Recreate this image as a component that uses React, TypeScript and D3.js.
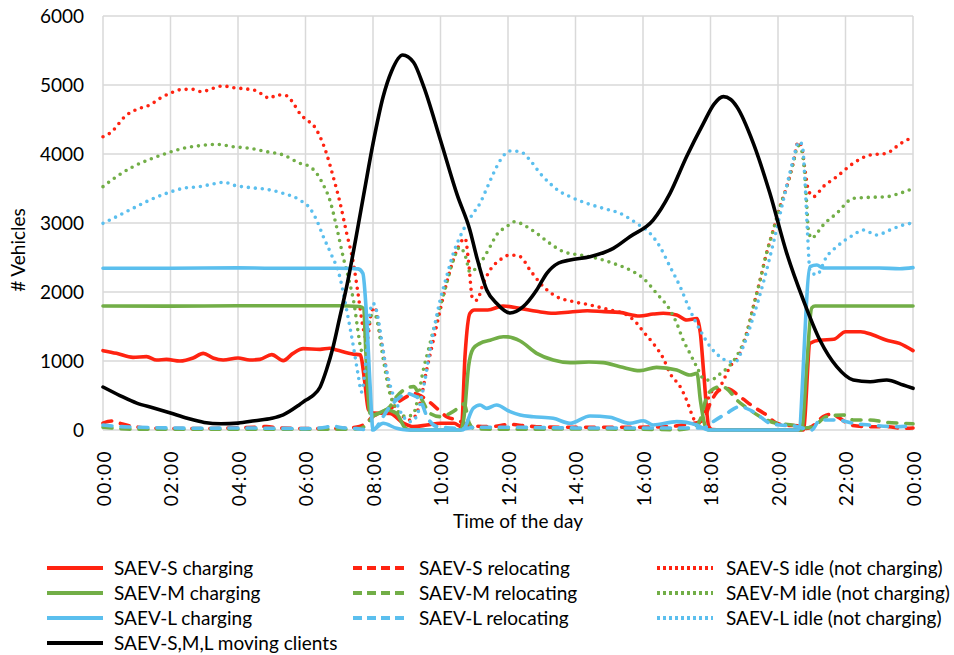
import React from "react";
import * as d3 from "d3";

// ---------- DATA (hours of day, vehicle counts) ----------
const sChargingT = [0, 0.4, 0.89, 1.29, 1.59, 1.88, 2.28, 2.67, 2.97, 3.26, 3.56, 4.0, 4.35, 4.65, 5.0, 5.34, 5.63, 5.93, 6.43, 6.72, 6.92, 7.42, 7.62, 7.76, 7.86, 8.0, 8.5, 8.9, 9.2, 9.6, 10.0, 10.4, 10.62, 10.73, 10.87, 11.0, 11.4, 11.85, 12.35, 12.85, 13.35, 13.85, 14.35, 14.85, 15.3, 15.9, 16.3, 16.6, 17.0, 17.3, 17.6, 17.7, 17.8, 17.95, 18.05, 20.6, 20.75, 20.95, 21.25, 21.65, 22.0, 22.45, 22.8, 23.2, 23.6, 24];
const sChargingV = [1150, 1111, 1053, 1063, 1014, 1024, 1000, 1043, 1111, 1043, 1014, 1043, 1014, 1024, 1092, 1005, 1111, 1179, 1169, 1184, 1160, 1100, 1090, 680, 300, 245, 240, 100, 50, 72, 97, 97, 50, 1100, 1690, 1740, 1740, 1797, 1763, 1720, 1691, 1710, 1729, 1715, 1705, 1652, 1680, 1691, 1667, 1594, 1615, 1400, 820, 48, 5, 0, 0, 1256, 1304, 1314, 1425, 1425, 1380, 1304, 1256, 1150];

const sRelocT = [0, 0.25, 0.5, 0.8, 1.5, 2.5, 3.5, 4.5, 4.85, 5.2, 6, 6.8, 7.3, 7.6, 7.8, 8.0, 8.2, 8.5, 8.7, 9.0, 9.2, 9.4, 9.6, 9.89, 10.18, 10.48, 10.7, 10.9, 11.5, 12.06, 12.5, 12.85, 13.5, 14.5, 15.5, 16.5, 17.0, 17.3, 17.55, 17.79, 17.99, 18.28, 18.5, 18.87, 19.27, 19.66, 19.96, 20.26, 20.65, 20.8, 21.0, 21.34, 21.54, 21.84, 22.14, 22.73, 23.22, 23.71, 24];
const sRelocV = [100, 130, 97, 60, 25, 20, 25, 40, 50, 30, 20, 20, 30, 50, 100, 200, 241, 300, 386, 483, 531, 500, 435, 314, 193, 145, 100, 60, 50, 82, 60, 48, 40, 40, 40, 45, 60, 80, 100, 145, 386, 580, 600, 483, 338, 217, 97, 70, 60, 20, 50, 193, 227, 169, 72, 48, 48, 24, 30];

const sIdleT = [0, 0.2, 0.7, 1.09, 1.39, 1.69, 1.98, 2.37, 2.67, 2.92, 3.26, 3.56, 3.85, 4.25, 4.54, 4.74, 4.94, 5.14, 5.44, 5.64, 5.83, 6.03, 6.23, 6.43, 6.62, 6.82, 7.02, 7.22, 7.42, 7.55, 7.7, 7.82, 7.95, 8.05, 8.2, 8.36, 8.5, 8.65, 8.9, 9.1, 9.25, 9.39, 9.59, 9.79, 9.99, 10.18, 10.38, 10.58, 10.73, 10.83, 10.95, 11.07, 11.27, 11.47, 11.76, 12.06, 12.36, 12.65, 13.05, 13.44, 13.93, 14.43, 15.02, 15.52, 15.81, 16.01, 16.3, 16.6, 16.8, 17.1, 17.29, 17.4, 17.49, 17.69, 17.89, 17.99, 18.28, 18.58, 18.87, 19.07, 19.27, 19.47, 19.66, 19.86, 20.06, 20.26, 20.45, 20.6, 20.7, 20.8, 20.9, 21.05, 21.34, 21.74, 22.23, 22.73, 23.22, 23.51, 23.81, 24];
const sIdleV = [4251, 4300, 4565, 4662, 4710, 4807, 4879, 4937, 4937, 4903, 4952, 4986, 4962, 4942, 4918, 4855, 4807, 4855, 4845, 4734, 4589, 4493, 4420, 4251, 4010, 3671, 3300, 2850, 2415, 2000, 1500, 1300, 1700, 1780, 1400, 966, 580, 338, 193, 145, 200, 386, 870, 1304, 1739, 2126, 2464, 2705, 2780, 2450, 1900, 1880, 2126, 2319, 2464, 2536, 2512, 2319, 2077, 1932, 1860, 1812, 1739, 1667, 1550, 1425, 1256, 1039, 821, 628, 435, 290, 169, 97, 386, 531, 628, 918, 1111, 1401, 1787, 2174, 2560, 2899, 3237, 3527, 3865, 4178, 4106, 3768, 3478, 3381, 3527, 3671, 3865, 3986, 4010, 4106, 4203, 4230];

const mChargingT = [0, 2, 4, 6, 7.0, 7.6, 7.72, 7.8, 7.9, 8.05, 8.4, 8.7, 8.95, 9.1, 10.6, 10.7, 10.83, 10.97, 11.17, 11.47, 11.86, 12.0, 12.36, 12.85, 13.34, 13.84, 14.4, 14.82, 15.32, 15.91, 16.4, 17.0, 17.39, 17.6, 17.7, 17.85, 17.95, 20.7, 20.85, 21.0, 21.1, 22, 23, 24];
const mChargingV = [1797, 1795, 1800, 1800, 1800, 1790, 1760, 1000, 250, 220, 290, 240, 30, 0, 0, 200, 918, 1180, 1256, 1300, 1352, 1350, 1290, 1111, 1014, 976, 985, 976, 918, 860, 908, 870, 797, 821, 430, 48, 0, 0, 918, 1770, 1797, 1797, 1797, 1797];

const mRelocT = [0, 0.5, 1, 2, 4, 6, 7, 7.6, 7.85, 8.0, 8.2, 8.5, 8.7, 9.0, 9.2, 9.4, 9.69, 10.0, 10.28, 10.58, 10.7, 10.85, 11.0, 12, 14, 16, 17.0, 17.5, 17.69, 17.89, 18.1, 18.3, 18.48, 18.78, 19.17, 19.56, 19.96, 20.45, 20.75, 21.0, 21.44, 21.94, 22.23, 22.73, 23.22, 23.71, 24];
const mRelocV = [40, 20, 10, 10, 10, 10, 10, 20, 100, 200, 250, 338, 483, 604, 628, 483, 241, 193, 241, 338, 380, 100, 20, 10, 15, 10, 5, 40, 145, 483, 600, 628, 600, 435, 290, 169, 97, 70, 30, 40, 193, 217, 145, 145, 111, 97, 90];

const mIdleT = [0, 0.4, 0.89, 1.39, 1.88, 2.37, 2.86, 3.36, 3.85, 4.35, 4.84, 5.34, 5.83, 6.13, 6.33, 6.53, 6.72, 6.92, 7.12, 7.3, 7.45, 7.55, 7.66, 7.75, 7.87, 7.98, 8.08, 8.16, 8.26, 8.36, 8.45, 8.6, 8.8, 9.0, 9.2, 9.34, 9.49, 9.64, 9.79, 9.99, 10.18, 10.38, 10.58, 10.75, 10.87, 11.17, 11.47, 11.66, 11.96, 12.2, 12.55, 12.85, 13.24, 13.64, 14.13, 14.63, 15.12, 15.61, 16.01, 16.4, 16.8, 17.0, 17.19, 17.39, 17.59, 17.8, 18.0, 18.25, 18.5, 18.75, 19.07, 19.27, 19.47, 19.66, 19.86, 20.06, 20.26, 20.45, 20.6, 20.7, 20.8, 20.85, 20.9, 21.0, 21.15, 21.34, 21.74, 22.23, 22.73, 23.22, 23.61, 24];
const mIdleV = [3527, 3671, 3816, 3923, 4010, 4082, 4120, 4140, 4106, 4082, 4034, 3986, 3865, 3816, 3720, 3551, 3333, 2947, 2500, 2150, 1800, 1450, 1150, 1120, 1500, 1680, 1650, 1497, 1159, 870, 628, 386, 241, 193, 241, 483, 870, 1159, 1449, 1787, 2126, 2464, 2650, 2500, 2290, 2415, 2657, 2826, 2947, 3019, 2947, 2850, 2705, 2584, 2536, 2488, 2415, 2319, 2198, 1981, 1739, 1546, 1304, 1111, 918, 740, 720, 800, 900, 1050, 1401, 1787, 2174, 2560, 2899, 3237, 3527, 3865, 4120, 4050, 3671, 3285, 2899, 2778, 2850, 2971, 3140, 3357, 3372, 3381, 3430, 3500];

const lChargingT = [0, 2, 4, 5, 6, 7.0, 7.4, 7.56, 7.7, 7.81, 7.91, 8.0, 8.3, 8.7, 9.0, 10.65, 10.97, 11.17, 11.37, 11.66, 12.06, 12.36, 12.75, 13.34, 13.84, 14.43, 15.02, 15.61, 16.01, 16.3, 17.0, 17.59, 17.95, 20.6, 20.95, 21.15, 21.34, 22, 23, 23.61, 24];
const lChargingV = [2345, 2345, 2350, 2345, 2345, 2345, 2340, 2335, 2270, 1642, 676, 10, 97, 24, 0, 0, 314, 362, 314, 362, 266, 217, 193, 169, 97, 203, 184, 97, 135, 72, 121, 72, 0, 0, 2367, 2391, 2348, 2348, 2348, 2338, 2353];

const lRelocT = [0, 0.5, 1, 2, 3, 4, 5, 6, 6.6, 6.8, 7.0, 7.5, 8.0, 8.3, 8.5, 8.7, 9.0, 9.2, 9.4, 9.6, 9.9, 10.3, 10.7, 11, 12, 13, 14, 15, 16, 17, 17.8, 18.0, 18.48, 18.87, 19.17, 19.47, 19.76, 20.06, 20.45, 20.75, 21.0, 21.24, 21.74, 22.23, 22.73, 23.51, 24];
const lRelocV = [72, 50, 40, 30, 25, 30, 25, 20, 40, 60, 40, 20, 0, 193, 338, 435, 531, 500, 435, 193, 48, 30, 20, 40, 40, 35, 30, 30, 30, 30, 30, 97, 241, 338, 290, 193, 97, 72, 60, 24, 0, 145, 145, 97, 72, 48, 60];

const lIdleT = [0, 0.4, 0.89, 1.39, 1.88, 2.37, 2.86, 3.36, 3.6, 3.85, 4.35, 4.84, 5.34, 5.83, 6.13, 6.33, 6.53, 6.75, 7.0, 7.22, 7.42, 7.56, 7.66, 7.75, 7.88, 8.0, 8.1, 8.21, 8.3, 8.4, 8.55, 8.7, 8.9, 9.1, 9.29, 9.44, 9.54, 9.69, 9.84, 9.99, 10.18, 10.38, 10.58, 10.78, 10.97, 11.17, 11.37, 11.57, 11.76, 12.06, 12.36, 12.65, 12.95, 13.24, 13.54, 13.84, 14.33, 14.82, 15.32, 15.81, 16.21, 16.5, 16.8, 17.1, 17.39, 17.69, 17.99, 18.28, 18.58, 18.77, 18.97, 19.27, 19.56, 19.86, 20.16, 20.45, 20.62, 20.72, 20.8, 20.87, 20.95, 21.15, 21.44, 21.74, 22.23, 22.53, 22.92, 23.32, 23.71, 24];
const lIdleV = [2995, 3092, 3213, 3333, 3430, 3502, 3527, 3575, 3590, 3551, 3513, 3488, 3430, 3333, 3213, 3043, 2800, 2560, 2250, 1739, 1207, 800, 550, 800, 1600, 1836, 1739, 1449, 1159, 870, 580, 386, 193, 121, 193, 483, 725, 1159, 1546, 1884, 2222, 2560, 2802, 2995, 3140, 3285, 3500, 3720, 3900, 4043, 4034, 3913, 3720, 3575, 3454, 3381, 3285, 3213, 3140, 2995, 2850, 2657, 2367, 2077, 1739, 1449, 1207, 1063, 990, 1000, 1207, 1642, 2126, 2705, 3333, 3913, 4178, 4130, 3600, 2900, 2300, 2250, 2512, 2657, 2826, 2899, 2826, 2899, 2971, 3000];

const movingT = [0, 0.5, 1.0, 1.5, 2.0, 2.5, 3.0, 3.5, 4.0, 4.5, 5.0, 5.34, 5.83, 6.0, 6.2, 6.43, 6.62, 6.82, 7.02, 7.22, 7.5, 7.75, 8.0, 8.3, 8.55, 8.88, 9.2, 9.5, 10.0, 10.5, 10.87, 11.07, 11.37, 11.66, 12.06, 12.45, 12.85, 13.15, 13.5, 13.84, 14.43, 15.12, 15.61, 16.3, 16.8, 17.29, 17.79, 18.1, 18.38, 18.6, 18.78, 19.27, 19.76, 20.26, 20.75, 21.24, 21.74, 22.23, 22.73, 23.22, 23.71, 24];
const movingV = [623, 500, 390, 320, 246, 170, 110, 90, 100, 135, 170, 220, 370, 430, 490, 620, 870, 1207, 1642, 2077, 2800, 3480, 4150, 4830, 5200, 5435, 5330, 4980, 4200, 3400, 2900, 2512, 2030, 1836, 1695, 1787, 2029, 2271, 2420, 2464, 2512, 2633, 2802, 3043, 3430, 3961, 4444, 4720, 4831, 4790, 4686, 4155, 3430, 2560, 1884, 1304, 918, 725, 700, 725, 652, 604];

const yTicks = [0, 1000, 2000, 3000, 4000, 5000, 6000];
const xTickHours = [0, 2, 4, 6, 8, 10, 12, 14, 16, 18, 20, 22, 24];
const xTickLabels = ["00:00", "02:00", "04:00", "06:00", "08:00", "10:00", "12:00", "14:00", "16:00", "18:00", "20:00", "22:00", "00:00"];

const seriesNames = [
  "SAEV-S charging", "SAEV-S relocating", "SAEV-S idle (not charging)",
  "SAEV-M charging", "SAEV-M relocating", "SAEV-M idle (not charging)",
  "SAEV-L charging", "SAEV-L relocating", "SAEV-L idle (not charging)",
  "SAEV-S,M,L moving clients",
];

// ---------- STYLE ----------
const RED = "#FF2311";
const GREEN = "#72AE47";
const BLUE = "#5BBFEE";
const BLACK = "#000000";
const FONT = "Lato, 'Open Sans', sans-serif";

type Kind = "solid" | "dash" | "dot";
const seriesData: { t: number[]; v: number[]; color: string; kind: Kind }[] = [
  { t: sChargingT, v: sChargingV, color: RED, kind: "solid" },
  { t: sRelocT, v: sRelocV, color: RED, kind: "dash" },
  { t: sIdleT, v: sIdleV, color: RED, kind: "dot" },
  { t: mChargingT, v: mChargingV, color: GREEN, kind: "solid" },
  { t: mRelocT, v: mRelocV, color: GREEN, kind: "dash" },
  { t: mIdleT, v: mIdleV, color: GREEN, kind: "dot" },
  { t: lChargingT, v: lChargingV, color: BLUE, kind: "solid" },
  { t: lRelocT, v: lRelocV, color: BLUE, kind: "dash" },
  { t: lIdleT, v: lIdleV, color: BLUE, kind: "dot" },
  { t: movingT, v: movingV, color: BLACK, kind: "solid" },
];

const W = 954;
const H = 655;
const plot = { left: 103, right: 913, top: 16, bottom: 430 };

function dashFor(kind: Kind): string | undefined {
  if (kind === "dash") return "9 9";
  if (kind === "dot") return "0 7";
  return undefined;
}

export default function App() {
  const x = d3.scaleLinear().domain([0, 24]).range([plot.left, plot.right]);
  const y = d3.scaleLinear().domain([0, 6000]).range([plot.bottom, plot.top]);
  const line = d3
    .line<[number, number]>()
    .x((d) => x(d[0]))
    .y((d) => y(d[1]))
    .curve(d3.curveMonotoneX);

  const legendCols = [
    { lx: 47, tx: 114 },
    { lx: 353, tx: 419 },
    { lx: 657, tx: 726 },
  ];
  const legendRows = [568, 593, 618, 643];

  return (
    <svg
      width={W}
      height={H}
      viewBox={`0 0 ${W} ${H}`}
      style={{ position: "absolute", left: 0, top: 0, background: "#fff" }}
      fontFamily={FONT}
    >
      <rect x={0} y={0} width={W} height={H} fill="#fff" />
      {/* gridlines */}
      {yTicks.map((t) => (
        <line key={"gy" + t} x1={plot.left} x2={plot.right} y1={y(t)} y2={y(t)} stroke="#D9D9D9" strokeWidth={1.5} />
      ))}
      {xTickHours.map((h, i) => (
        <line key={"gx" + i} x1={x(h)} x2={x(h)} y1={plot.top} y2={plot.bottom} stroke="#D9D9D9" strokeWidth={1.5} />
      ))}
      {/* y tick labels */}
      {yTicks.map((t) => (
        <text key={"ty" + t} x={84} y={y(t)} dy="0.35em" textAnchor="end" fontSize={19} fill="#000">
          {t}
        </text>
      ))}
      {/* x tick labels */}
      {xTickHours.map((h, i) => (
        <text
          key={"tx" + i}
          transform={`translate(${x(h) + 1},${450}) rotate(-90)`}
          textAnchor="end"
          dy="0.35em"
          fontSize={19}
          letterSpacing={1.5}
          fill="#000"
        >
          {xTickLabels[i]}
        </text>
      ))}
      {/* axis titles */}
      <text transform={`translate(25,250) rotate(-90)`} textAnchor="middle" fontSize={19} fill="#000">
        # Vehicles
      </text>
      <text x={518} y={528} textAnchor="middle" fontSize={19} fill="#000">
        Time of the day
      </text>
      {/* series */}
      <g clipPath="url(#clip)">
        {seriesData.map((s, i) => {
          const pts: [number, number][] = s.t.map((tt, j) => [tt, s.v[j]]);
          return (
            <path
              key={"s" + i}
              d={line(pts) || ""}
              fill="none"
              stroke={s.color}
              strokeWidth={s.kind === "dot" ? 3.6 : 3.6}
              strokeDasharray={dashFor(s.kind)}
              strokeLinecap="round"
              strokeLinejoin="round"
            />
          );
        })}
      </g>
      <defs>
        <clipPath id="clip">
          <rect x={plot.left - 4} y={plot.top - 4} width={plot.right - plot.left + 8} height={plot.bottom - plot.top + 6} />
        </clipPath>
      </defs>
      {/* legend */}
      {seriesData.map((s, i) => {
        const col = i === 9 ? 0 : i % 3;
        const row = i === 9 ? 3 : Math.floor(i / 3);
        const c = legendCols[col];
        const ly = legendRows[row];
        return (
          <g key={"lg" + i}>
            <line
              x1={c.lx}
              x2={c.lx + 56}
              y1={ly}
              y2={ly}
              stroke={s.color}
              strokeWidth={4}
              strokeDasharray={s.kind === "dash" ? "9 5" : s.kind === "dot" ? "3 3" : undefined}
            />
            <text x={c.tx} y={ly} dy="0.35em" fontSize={19} fill="#000">
              {seriesNames[i]}
            </text>
          </g>
        );
      })}
    </svg>
  );
}
